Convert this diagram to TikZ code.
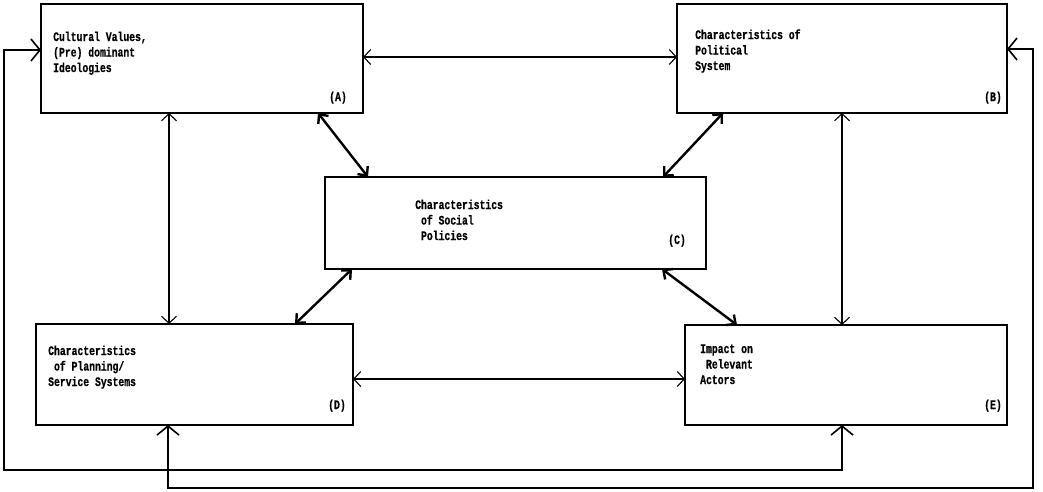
\documentclass[tikz,border=0pt]{standalone}
\usepackage{fontspec}
\setmonofont{Liberation Mono}[FakeStretch=0.75, BoldFeatures={FakeBold=0.6}]
\usetikzlibrary{arrows.meta}
\begin{document}
\begin{tikzpicture}[x=1pt,y=-1pt,
  box/.style={draw, line width=1.2pt, inner sep=0pt, outer sep=0pt},
  txt/.style={inner sep=0pt, align=left, anchor=base west,
    font=\ttfamily\bfseries\fontsize{13}{15.5}\selectfont},
  lbl/.style={inner sep=0pt, anchor=base east,
    font=\ttfamily\bfseries\fontsize{13}{15.5}\selectfont},
  barb/.tip={Straight Barb[length=7pt,width=15pt]},
  arr/.style={line width=1.1pt, barb-barb},
  thick arr/.style={line width=2.4pt, {Straight Barb[length=7pt,width=13pt]}-{Straight Barb[length=7pt,width=13pt]}},
  loop arr/.style={line width=1.6pt, {Straight Barb[length=9pt,width=22pt]}-{Straight Barb[length=9pt,width=22pt]}}
]
\useasboundingbox (0,0) rectangle (1043,491);
\fill[white] (0,0) rectangle (1043,491);

% boxes
\node[box, minimum width=322pt, minimum height=109pt] (A) at (202,58.5) {};
\node[box, minimum width=330pt, minimum height=109pt] (B) at (842,58.5) {};
\node[box, minimum width=381pt, minimum height=92pt] (C) at (515.5,223) {};
\node[box, minimum width=317pt, minimum height=101pt] (D) at (194.5,374.5) {};
\node[box, minimum width=322pt, minimum height=100pt] (E) at (846,375) {};

% texts (anchored at the baseline of the last line)
\node[txt] (At) at (53,72) {Cultural Values,\\(Pre) dominant\\Ideologies};
\node[lbl] (Al) at (347,101) {(A)};
\node[txt] (Bt) at (695,70) {Characteristics of\\Political\\System};
\node[lbl] (Bl) at (1002,101) {(B)};
\node[txt] (Ct) at (415,240) {Characteristics\\\hphantom{x}of Social\\\hphantom{x}Policies};
\node[lbl] (Cl) at (686,244) {(C)};
\node[txt] (Dt) at (48,386) {Characteristics\\\hphantom{x}of Planning/\\Service Systems};
\node[lbl] (Dl) at (346,409) {(D)};
\node[txt] (Et) at (700,384) {Impact on\\\hphantom{x}Relevant\\Actors};
\node[lbl] (El) at (1002,409) {(E)};

% straight connectors
\draw[arr] (A.east |- 0,57) -- (B.west |- 0,57);
\draw[arr] ([xshift=128pt]A.south west) -- ([xshift=133pt]D.north west);
\draw[arr] (B.south) -- (B.south |- E.north);
\draw[arr] ([yshift=-4.5pt]D.east) -- ([yshift=-4.5pt]D.east -| E.west);

% diagonal connectors
\draw[thick arr] ([xshift=-45pt]A.south east) -- ([xshift=43pt]C.north west);
\draw[thick arr] ([xshift=46pt]B.south west) -- ([xshift=-43pt]C.north east);
\draw[thick arr] ([xshift=27pt]C.south west) -- ([xshift=-58pt]D.north east);
\draw[thick arr] ([xshift=-44pt]C.south east) -- ([xshift=52pt]E.north west);

% feedback loops
\coordinate (L1) at (4,470);
\coordinate (L2) at (1033,488);
\draw[loop arr] ([yshift=8.5pt]A.west) -| (L1) -| ([xshift=-4pt]E.south);
\draw[loop arr] ([xshift=-26.5pt]D.south) |- (L2) |- ([yshift=9.5pt]B.east);
\end{tikzpicture}
\end{document}
